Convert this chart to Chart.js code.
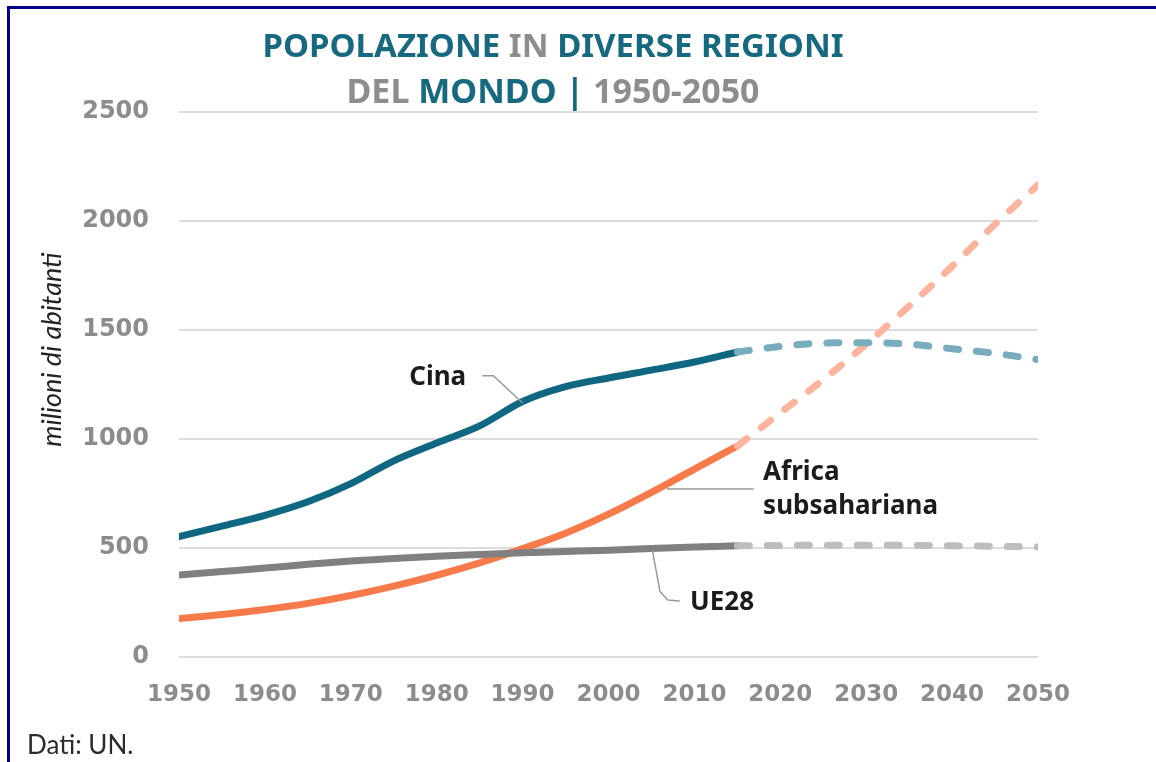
<!DOCTYPE html>
<html>
<head>
<meta charset="utf-8">
<script src="https://cdn.jsdelivr.net/npm/chart.js@4"></script>
<style>
  html, body { margin: 0; padding: 0; background: #fff; }
  body { width: 1156px; height: 762px; position: relative; overflow: hidden; font-family: "Noto Sans", sans-serif; }
  .frame-top { position: absolute; left: 7px; top: 6px; width: 1149px; height: 3px; background: #00008b; z-index: 2; }
  .frame-left { position: absolute; left: 7px; top: 6px; width: 3px; height: 756px; background: #00008b; z-index: 2; }
  .title { position: absolute; left: 0; width: 1106px; text-align: center; font-weight: bold; font-size: 33px; line-height: 1; white-space: nowrap; z-index: 2; }
  .t1 { top: 28px; }
  .t2 { top: 73px; }
  .t2 { font-size: 34px; }
  .teal { color: #17697f; }
  .grey { color: #8d8d8d; }
  .source { position: absolute; left: 27px; top: 728px; font-family: "Lato", sans-serif; font-size: 26px; color: #2b2b2b; z-index: 2; }
  #wrap { position: absolute; left: 0; top: 0; width: 1156px; height: 762px; }
</style>
</head>
<body>
<div id="wrap"><canvas id="chart" width="1156" height="762"></canvas></div>
<div class="frame-top"></div>
<div class="frame-left"></div>
<div class="title t1"><span class="teal">POPOLAZIONE</span> <span class="grey">IN</span> <span class="teal">DIVERSE REGIONI</span></div>
<div class="title t2"><span class="grey">DEL</span> <span class="teal">MONDO |</span> <span class="grey">1950-2050</span></div>
<div class="source">Dati: UN.</div>

<script>
// anni e valori (milioni di abitanti)
const histYears = [1950, 1955, 1960, 1965, 1970, 1975, 1980, 1985, 1990, 1995, 2000, 2005, 2010, 2015];
const projYears = [2015, 2020, 2025, 2030, 2035, 2040, 2045, 2050];

const cinaHist = [552, 600, 650, 712, 795, 900, 982, 1060, 1172, 1240, 1280, 1316, 1353, 1399];
const cinaProj = [1399, 1425, 1440, 1442, 1435, 1414, 1393, 1364];

const africaHist = [176, 195, 218, 246, 282, 325, 375, 432, 497, 568, 655, 755, 862, 968];
const africaProj = [968, 1120, 1272, 1435, 1610, 1792, 1985, 2165];

const ue28Hist = [376, 392, 408, 425, 440, 452, 462, 470, 478, 484, 490, 498, 505, 510];
const ue28Proj = [510, 512, 513, 513, 512, 510, 508, 505];

const xTicks = [1950, 1960, 1970, 1980, 1990, 2000, 2010, 2020, 2030, 2040, 2050];
const yTicks = [0, 500, 1000, 1500, 2000, 2500];

const yTitle = "milioni di abitanti";

function pts(xs, ys) {
  return xs.map((x, i) => ({ x: x, y: ys[i] }));
}

function line(label, xs, ys, color, dashed) {
  return {
    label: label,
    data: pts(xs, ys),
    borderColor: color,
    borderWidth: 7,
    borderCapStyle: "round",
    borderJoinStyle: "round",
    borderDash: dashed ? [12, 18] : [],
    pointRadius: 0,
    cubicInterpolationMode: "monotone",
    fill: false,
  };
}

// etichette delle serie, ancorate ai valori degli assi
const seriesLabels = [
  { lines: ["Cina"], year: 1976.8, value: 1282, leader: [[1985.3, 1290], [1986.6, 1290], [1990.0, 1165]] },
  { lines: ["Africa", "subsahariana"], year: 2018.0, value: 845, leader: [[2006.8, 771], [2016.9, 771]] },
  { lines: ["UE28"], year: 2009.5, value: 248, leader: [[2005.1, 491], [2006.0, 300], [2006.9, 261], [2008.3, 257]] },
];

const labelPlugin = {
  id: "seriesLabels",
  afterDatasetsDraw(chart) {
    const ctx = chart.ctx;
    const xs = chart.scales.x;
    const ys = chart.scales.y;
    ctx.save();
    seriesLabels.forEach((lab) => {
      ctx.strokeStyle = "#9a9a9a";
      ctx.lineWidth = 1.5;
      ctx.beginPath();
      lab.leader.forEach((p, i) => {
        const px = xs.getPixelForValue(p[0]);
        const py = ys.getPixelForValue(p[1]);
        if (i === 0) ctx.moveTo(px, py);
        else ctx.lineTo(px, py);
      });
      ctx.stroke();
      ctx.fillStyle = "#1b1b1b";
      ctx.font = "bold 26px 'Noto Sans'";
      ctx.textBaseline = "middle";
      ctx.textAlign = "left";
      const x0 = xs.getPixelForValue(lab.year);
      const y0 = ys.getPixelForValue(lab.value);
      lab.lines.forEach((t, i) => {
        ctx.fillText(t, x0, y0 + i * 34);
      });
    });

    // titolo dell'asse y
    ctx.translate(chart.chartArea.left - 127, ys.getPixelForValue(1410));
    ctx.rotate(-Math.PI / 2);
    ctx.fillStyle = "#222222";
    ctx.font = "italic 27px Lato";
    ctx.textAlign = "center";
    ctx.textBaseline = "middle";
    ctx.fillText(yTitle, 0, 0);
    ctx.restore();
  },
};

new Chart(document.getElementById("chart"), {
  type: "line",
  data: {
    datasets: [
      line("Cina (proiezione)", projYears, cinaProj, "#78adbd", true),
      line("Africa subsahariana (proiezione)", projYears, africaProj, "#fcb49e", true),
      line("UE28 (proiezione)", projYears, ue28Proj, "#bdbdbd", true),
      line("UE28", histYears, ue28Hist, "#808080", false),
      line("Africa subsahariana", histYears, africaHist, "#f77a4b", false),
      line("Cina", histYears, cinaHist, "#0f6781", false),
    ],
  },
  options: {
    responsive: false,
    animation: false,
    events: [],
    layout: { padding: { top: 112, right: 118, bottom: 0, left: 0 } },
    plugins: { legend: { display: false }, tooltip: { enabled: false } },
    scales: {
      x: {
        type: "linear",
        min: 1950,
        max: 2050,
        afterBuildTicks(scale) {
          scale.ticks = xTicks.map((v) => ({ value: v }));
        },
        afterFit(scale) {
          scale.height = 105;
        },
        grid: { display: false, drawTicks: false },
        border: { display: false },
        ticks: {
          padding: 24,
          color: "#8c8c8c",
          font: { family: "'DejaVu Sans'", size: 23, weight: "bold" },
          maxRotation: 0,
          autoSkip: false,
          callback: (v) => String(v),
        },
      },
      y: {
        min: 0,
        max: 2500,
        afterBuildTicks(scale) {
          scale.ticks = yTicks.map((v) => ({ value: v }));
        },
        afterFit(scale) {
          scale.width = 179;
        },
        grid: { color: "#dddddd", lineWidth: 2, drawTicks: false },
        border: { display: false },
        ticks: {
          padding: 30,
          color: "#8c8c8c",
          font: { family: "'DejaVu Sans'", size: 24, weight: "bold" },
          callback: (v) => String(v),
        },
      },
    },
  },
  plugins: [labelPlugin],
});
</script>
</body>
</html>
